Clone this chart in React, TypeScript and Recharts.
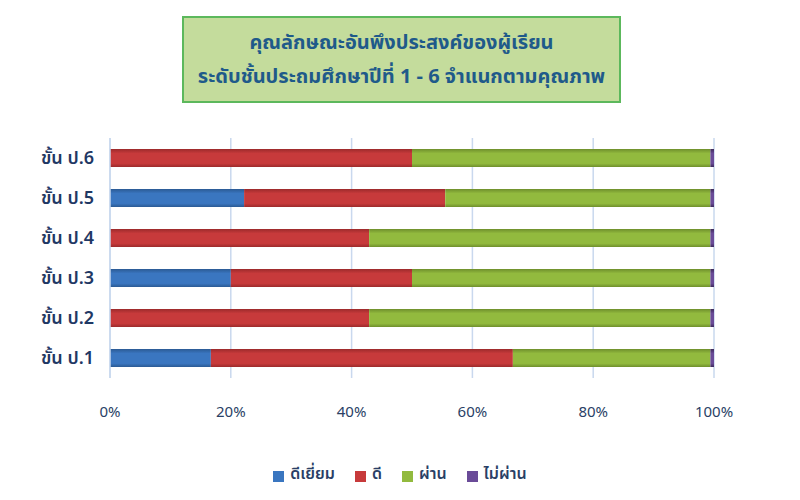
import React from "react";
import { BarChart, Bar, XAxis, YAxis, CartesianGrid } from "recharts";

// categories listed top to bottom as drawn
const grades = ["ขั้น ป.6", "ขั้น ป.5", "ขั้น ป.4", "ขั้น ป.3", "ขั้น ป.2", "ขั้น ป.1"];

// percent of students per quality level
const excellent = [0, 22.2, 0, 20, 0, 16.7];
const good = [50, 33.3, 42.9, 30, 42.9, 50];
const pass = [49.4, 43.9, 56.5, 49.4, 56.5, 32.7];
const notPass = [0.6, 0.6, 0.6, 0.6, 0.6, 0.6];

const xTicks = [0, 20, 40, 60, 80, 100];

const seriesConfig = [
  { key: "excellent", label: "ดีเยี่ยม", color: "#3a76c0", dark: "#2b5a94" },
  { key: "good", label: "ดี", color: "#c73a3b", dark: "#9c2a2b" },
  { key: "pass", label: "ผ่าน", color: "#92ba3e", dark: "#6f8f2c" },
  { key: "notPass", label: "ไม่ผ่าน", color: "#6a4b98", dark: "#3e2a5c" },
];

const data = grades.map((grade, i) => ({
  grade,
  excellent: excellent[i],
  good: good[i],
  pass: pass[i],
  notPass: notPass[i],
}));

const textFont = "Tahoma, 'Noto Sans Thai', 'Noto Sans', sans-serif";

export default function App() {
  return (
    <div style={{ position: "absolute", left: 0, top: 0, width: 800, height: 500, background: "#fff", fontFamily: textFont }}>
      <BarChart
        width={800}
        height={500}
        data={data}
        layout="vertical"
        margin={{ top: 138, right: 86, bottom: 92, left: 0 }}
        barSize={18}
      >
        <defs>
          {seriesConfig.map((s) => (
            <linearGradient key={s.key} id={`fill${s.key}`} x1="0" y1="0" x2="0" y2="1">
              <stop offset="0%" stopColor={s.dark} />
              <stop offset="25%" stopColor={s.color} />
              <stop offset="80%" stopColor={s.color} />
              <stop offset="100%" stopColor={s.dark} />
            </linearGradient>
          ))}
        </defs>
        <CartesianGrid horizontal={false} stroke="#c9d8ee" strokeWidth={1.5} />
        <XAxis
          type="number"
          domain={[0, 100]}
          ticks={xTicks}
          tickFormatter={(v) => `${v}%`}
          axisLine={false}
          tickLine={false}
          tickMargin={22}
          tick={{ fill: "#2a3f66", fontSize: 15, fontFamily: textFont }}
        />
        <YAxis
          type="category"
          dataKey="grade"
          width={110}
          axisLine={{ stroke: "#c9d8ee", strokeWidth: 1.5 }}
          tickLine={false}
          tickMargin={10}
          tick={{ fill: "#1f3864", fontSize: 18, fontWeight: 600, fontFamily: textFont }}
        />
        {seriesConfig.map((s) => (
          <Bar
            key={s.key}
            dataKey={s.key}
            stackId="q"
            name={s.label}
            fill={`url(#fill${s.key})`}
            isAnimationActive={false}
          />
        ))}
      </BarChart>

      <div
        style={{
          position: "absolute",
          left: 182,
          top: 16,
          width: 435,
          height: 83,
          background: "#c4dc9c",
          border: "2px solid #5cb85c",
          color: "#1f5a8a",
          fontWeight: "bold",
          fontSize: 20,
          textAlign: "center",
          display: "flex",
          flexDirection: "column",
          justifyContent: "center",
          lineHeight: "34px",
        }}
      >
        <div>คุณลักษณะอันพึงประสงค์ของผู้เรียน</div>
        <div>ระดับชั้นประถมศึกษาปีที่ 1 - 6 จำแนกตามคุณภาพ</div>
      </div>

      <div
        style={{
          position: "absolute",
          left: 0,
          top: 462,
          width: 800,
          display: "flex",
          justifyContent: "center",
          gap: 20,
          color: "#2a3f66",
          fontSize: 16,
          fontWeight: 600,
        }}
      >
        {seriesConfig.map((s) => (
          <div key={s.key} style={{ display: "flex", alignItems: "center", gap: 6 }}>
            <span style={{ display: "inline-block", width: 11, height: 11, background: s.color, marginTop: 5 }} />
            <span>{s.label}</span>
          </div>
        ))}
      </div>
    </div>
  );
}
